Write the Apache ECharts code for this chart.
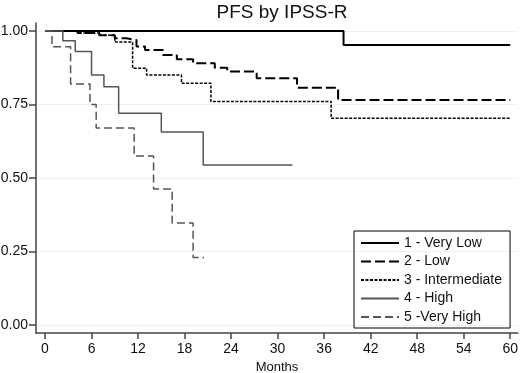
<!DOCTYPE html>
<html>
<head>
<meta charset="utf-8">
<script src="https://cdn.jsdelivr.net/npm/echarts@6/dist/echarts.min.js"></script>
<style>
  html, body { margin: 0; padding: 0; background: #fff; }
  #chart { width: 520px; height: 373px; }
</style>
</head>
<body>
<div id="chart"></div>
<script>
// KM steps: month where the curve drops, survival after the drop
const groupNames = ['1 - Very Low', '2 - Low', '3 - Intermediate', '4 - High', '5 -Very High']

const months1 = [0, 38.5, 60]
const surv1 = [1, 0.952, 0.952]

const months2 = [0, 4.2, 7, 9, 10.5, 11.8, 12.9, 15.2, 17, 19.1, 21.9, 23.5, 27.3, 32.5, 37.8, 60]
const surv2 = [1, 0.993, 0.985, 0.975, 0.969, 0.947, 0.935, 0.918, 0.904, 0.89, 0.875, 0.862, 0.839, 0.807, 0.765, 0.765]

const months3 = [0, 4.2, 7, 9, 11.3, 13.1, 17.6, 21.4, 36.9, 60]
const surv3 = [1, 0.993, 0.985, 0.962, 0.873, 0.85, 0.822, 0.76, 0.703, 0.703]

const months4 = [0, 2.3, 3.9, 6, 7.6, 9.5, 15, 20.4, 31.9]
const surv4 = [1, 0.967, 0.93, 0.85, 0.81, 0.72, 0.656, 0.544, 0.544]

const months5 = [0, 0.9, 3.3, 5.8, 6.6, 11.5, 14, 16.4, 19.1, 20.5]
const surv5 = [1, 0.946, 0.82, 0.75, 0.67, 0.575, 0.463, 0.347, 0.23, 0.23]

const xTicks = [0, 6, 12, 18, 24, 30, 36, 42, 48, 54, 60]
const yTicks = [0, 0.25, 0.5, 0.75, 1]

const zip = (xs, ys) => xs.map((x, i) => [x, ys[i]])

const chart = echarts.init(document.getElementById('chart'))

const axisColor = '#444'
const font = 'Liberation Sans, Arial, sans-serif'

const makeSeries = (name, months, surv, color, width, type) => ({
  name: name,
  type: 'line',
  step: 'end',
  symbol: 'none',
  data: zip(months, surv),
  lineStyle: { color: color, width: width, type: type },
  itemStyle: { color: color }
})

chart.setOption({
  animation: false,
  backgroundColor: '#fff',
  title: {
    text: 'PFS by IPSS-R',
    left: 277,
    textAlign: 'center',
    top: -2,
    textStyle: { fontFamily: font, fontSize: 19, fontWeight: 'normal', color: '#111' }
  },
  legend: {
    orient: 'vertical',
    left: 354,
    top: 231,
    padding: [5, 8, 4, 6],
    itemWidth: 38,
    itemHeight: 14,
    itemGap: 4.5,
    borderColor: '#000',
    borderWidth: 1,
    itemStyle: { opacity: 0 },
    textStyle: { fontFamily: font, fontSize: 14, color: '#111' },
    data: groupNames
  },
  grid: { left: 36, right: 2, top: 23, bottom: 40, outerBoundsMode: 'none' },
  xAxis: {
    type: 'value',
    min: -1.16,
    max: 61,
    name: 'Months',
    nameLocation: 'middle',
    nameGap: 26,
    nameTextStyle: { fontFamily: font, fontSize: 13, color: '#111' },
    axisLine: { onZero: false, lineStyle: { color: axisColor, width: 1.5 } },
    axisTick: { customValues: xTicks, length: 6, lineStyle: { color: axisColor, width: 1.5 } },
    axisLabel: { customValues: xTicks, fontFamily: font, fontSize: 14, color: '#111', margin: 9 },
    splitLine: { show: false }
  },
  yAxis: {
    type: 'value',
    min: -0.027,
    max: 1.027,
    axisLine: { show: true, onZero: false, lineStyle: { color: axisColor, width: 1.5 } },
    axisTick: { show: true, customValues: yTicks, length: 7, lineStyle: { color: axisColor, width: 1.5 } },
    axisLabel: {
      customValues: yTicks,
      fontFamily: font,
      fontSize: 14,
      color: '#111',
      margin: 8,
      formatter: v => v.toFixed(2)
    },
    splitLine: { show: true, lineStyle: { color: '#f0f0f0', width: 1 } }
  },
  series: [
    makeSeries(groupNames[0], months1, surv1, '#000', 2, 'solid'),
    makeSeries(groupNames[1], months2, surv2, '#000', 2, [10, 4]),
    makeSeries(groupNames[2], months3, surv3, '#000', 1.5, [3, 1.5]),
    makeSeries(groupNames[3], months4, surv4, '#555', 1.5, 'solid'),
    makeSeries(groupNames[4], months5, surv5, '#555', 1.5, [8, 4])
  ]
})
</script>
</body>
</html>
